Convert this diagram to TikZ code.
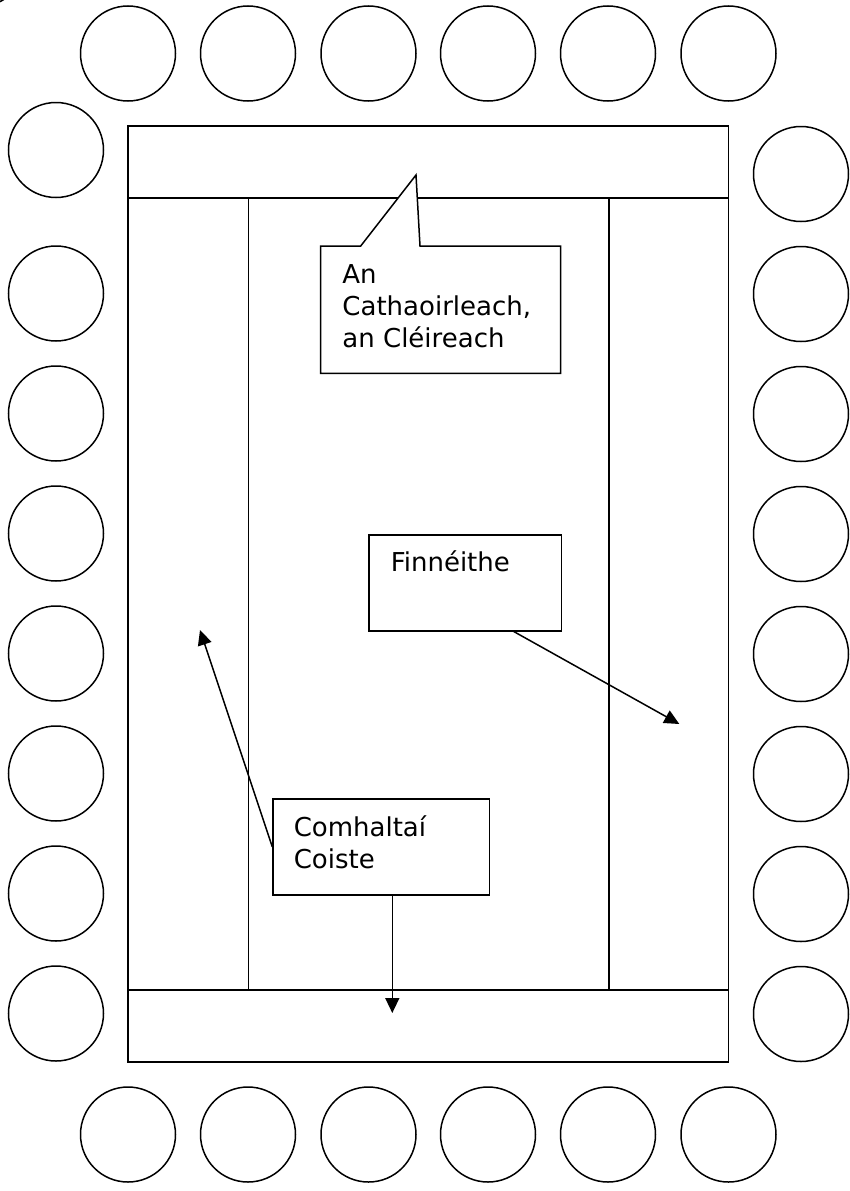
\documentclass[tikz,border=0pt]{standalone}
\usepackage{fontspec}
\setmainfont{DejaVu Sans}
\usetikzlibrary{arrows.meta,calc}
\begin{document}
\begin{tikzpicture}[x=1pt,y=-1pt,line width=1.5pt,
  seat/.style={draw,circle,minimum size=95pt,inner sep=0pt},
  panel/.style={draw,fill=white,inner sep=0pt,anchor=north west},
  lbl/.style={font=\fontsize{26pt}{31.7pt}\selectfont,align=left,inner sep=0pt},
  arr/.style={-{Triangle[length=15pt,width=14pt]}}]
\useasboundingbox (0,0) rectangle (850,1191);
% seats: top and bottom rows
\foreach \i/\x in {1/128,2/248,3/368.5,4/488,5/608,6/728.5}{
  \node[seat] (top\i) at (\x,53.5) {};
  \node[seat] (bot\i) at (\x,1134.5) {};
}
% left column
\foreach \i/\y in {1/150,2/293.5,3/413.5,4/533.5,5/653.5,6/773.5,7/893.5,8/1013.5}{
  \node[seat] (left\i) at (56,\y) {};
}
% right column
\foreach \i/\y in {1/174,2/294,3/414,4/534,5/654,6/774,7/894,8/1014}{
  \node[seat] (right\i) at (801,\y) {};
}
% partial seat at the top-left corner
\node[seat] (corner) at (-21,-41) {};
% table
\draw (128,126) rectangle (728.3,1062);
\draw (128,198) -- (728.3,198);
\draw (128,990) -- (728.3,990);
\draw (248.3,198) -- (248.3,990);
\draw (609,198) -- (609,990);
% callout
\coordinate (ctip) at (416,175);
\draw[fill=white,line join=miter] (320.7,246) -- (360.7,246) -- (ctip) -- (420,246) -- (560.7,246) -- (560.7,373.3) -- (320.7,373.3) -- cycle;
\node[lbl,anchor=north west] (chair) at (341.7,264) {An\\Cathaoirleach,\\an Cléireach};
% witnesses
\node[panel,minimum width=192.4pt,minimum height=96pt] (finn) at (368.3,534) {};
\node[lbl,anchor=base west] (finnt) at (390,571.7) {Finnéithe};
% committee members
\node[panel,minimum width=216.4pt,minimum height=95.7pt] (comh) at (272.3,798.3) {};
\node[lbl,anchor=north west] (comht) at (293,815) {Comhaltaí\\Coiste};
% arrows
\coordinate (t1) at (200,630);
\coordinate (t2) at (392.3,1013);
\coordinate (t3) at (679.3,724);
\draw[arr] (comh.west) -- (t1);
\draw[arr] (comh.south -| t2) -- (t2);
\draw[arr] ($(finn.south west)!0.75!(finn.south east)$) -- (t3);
\end{tikzpicture}
\end{document}
